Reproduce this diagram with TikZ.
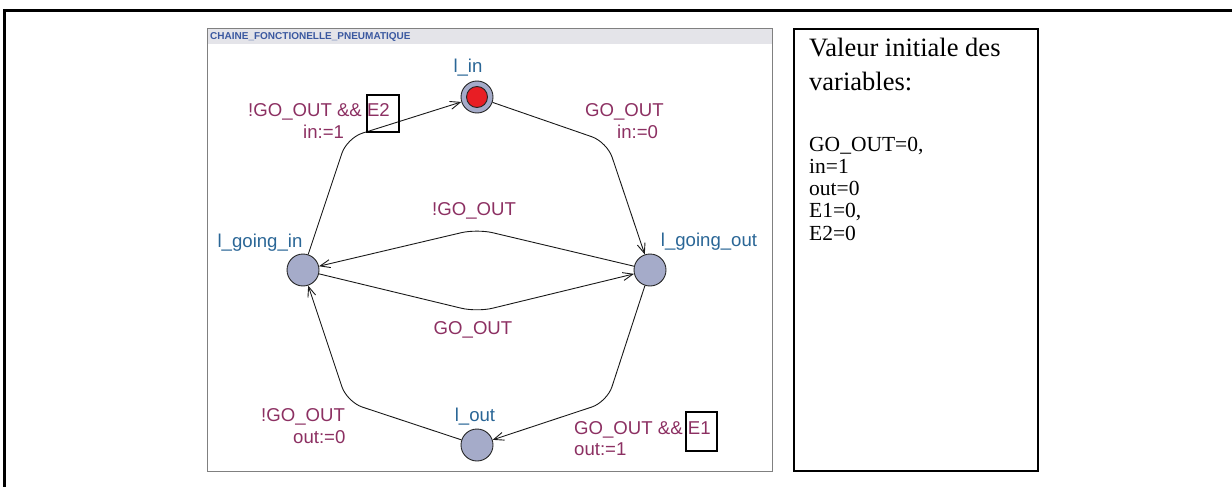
\documentclass[tikz,border=0pt]{standalone}
\usepackage{fontspec}
\setmainfont{Liberation Serif}
\newfontfamily\uifont{Liberation Sans}
\usetikzlibrary{arrows.meta}

\definecolor{labpurple}{RGB}{140,48,98}
\definecolor{locblue}{RGB}{42,102,150}
\definecolor{locfill}{RGB}{165,171,201}
\definecolor{initred}{RGB}{232,30,36}
\definecolor{barfill}{RGB}{228,228,233}
\definecolor{titleblue}{RGB}{58,88,160}
\definecolor{framegray}{RGB}{128,128,128}

\newcommand\edgelabelfont{\uifont\fontsize{18.6}{22}\selectfont}
\newcommand\titlebarfont{\uifont\bfseries\fontsize{10}{12}\selectfont}
\newcommand\varsbigfont{\fontsize{26.5}{32}\selectfont}
\newcommand\varssmallfont{\fontsize{21.5}{22}\selectfont}

\tikzset{
  loc/.style={circle, draw=black!85, line width=0.9pt, fill=locfill,
    minimum size=32pt, inner sep=0pt},
  redcore/.style={circle, draw=black!85, line width=0.9pt, fill=initred,
    minimum size=21pt, inner sep=0pt},
  locname/.style={text=locblue, font=\edgelabelfont, anchor=base, inner sep=0pt},
  guardlab/.style={text=labpurple, font=\edgelabelfont, anchor=base west, inner sep=0pt},
  trans/.style={draw=black!90, line width=0.9pt, rounded corners=16pt,
    -{Straight Barb[length=10pt,width=8pt]}},
  hlbox/.style={draw=black, line width=2.2pt},
  varline/.style={anchor=base west, inner sep=0pt}
}

\begin{document}
\begin{tikzpicture}[x=1pt,y=-1pt]
\useasboundingbox (0,0) rectangle (1232,487);

% page frame (top and left edges)
\draw[line width=3pt] (4.3,487) -- (4.3,10.8) -- (1232,10.8);

% automaton window
\fill[barfill] (207.5,28.5) rectangle (772.5,44);
\draw[framegray, line width=1.3pt] (207.5,28.5) rectangle (772.5,471.5);
\node[anchor=west, inner sep=0pt, text=titleblue, font=\titlebarfont]
  (title) at (210,37) {CHAINE\_FONCTIONELLE\_PNEUMATIQUE};

% locations
\node[loc] (lin)   at (477,97)  {};
\node[redcore] (lincore) at (lin.center) {};
\node[loc] (goin)  at (303,270) {};
\node[loc] (goout) at (650,270) {};
\node[loc] (lout)  at (477,445) {};

\node[locname] (nin)    at (468,73)  {l\_in};
\node[locname] (ngoin)  at (260,247) {l\_going\_in};
\node[locname] (ngoout) at (709,246) {l\_going\_out};
\node[locname] (nout)   at (475,421) {l\_out};

% bend points of the transitions
\coordinate (c1) at (347,138);
\coordinate (c2) at (607,142);
\coordinate (c3) at (477,229);
\coordinate (c4) at (477,312);
\coordinate (c5) at (607,402);
\coordinate (c6) at (347,402);

\draw[trans] (goin)  -- (c1) -- (lin);
\draw[trans] (lin)   -- (c2) -- (goout);
\draw[trans] (goout) -- (c3) -- (goin);
\draw[trans] (goin)  -- (c4) -- (goout);
\draw[trans] (goout) -- (c5) -- (lout);
\draw[trans] (lout)  -- (c6) -- (goin);

% guards and updates
\node[guardlab] (g1) at (248,117) {!GO\_OUT \&\& E2};
\node[guardlab] (u1) at (303,138) {in:=1};
\node[guardlab] (g2) at (585,117) {GO\_OUT};
\node[guardlab] (u2) at (617,138) {in:=0};
\node[guardlab, anchor=base] (g3) at (474,215) {!GO\_OUT};
\node[guardlab, anchor=base] (g4) at (473,334) {GO\_OUT};
\node[guardlab] (g5) at (574,434) {GO\_OUT \&\& E1};
\node[guardlab] (u5) at (574,455) {out:=1};
\node[guardlab] (g6) at (261,421) {!GO\_OUT};
\node[guardlab] (u6) at (293,443) {out:=0};

% highlighted inputs
\draw[hlbox] (367,95) rectangle (399,132);
\draw[hlbox] (686,412) rectangle (717,451);

% initial values box
\draw[line width=2.2pt] (794,29) rectangle (1038,471);
\node[varline, font=\varsbigfont] (v1) at (809,57) {Valeur initiale des};
\node[varline, font=\varsbigfont] (v2) at (809,90) {variables:};
\node[varline, font=\varssmallfont] (v3) at (809,151) {GO\_OUT=0,};
\node[varline, font=\varssmallfont] (v4) at (809,173) {in=1};
\node[varline, font=\varssmallfont] (v5) at (809,195.5) {out=0};
\node[varline, font=\varssmallfont] (v6) at (809,217.5) {E1=0,};
\node[varline, font=\varssmallfont] (v7) at (809,240) {E2=0};
\end{tikzpicture}
\end{document}
